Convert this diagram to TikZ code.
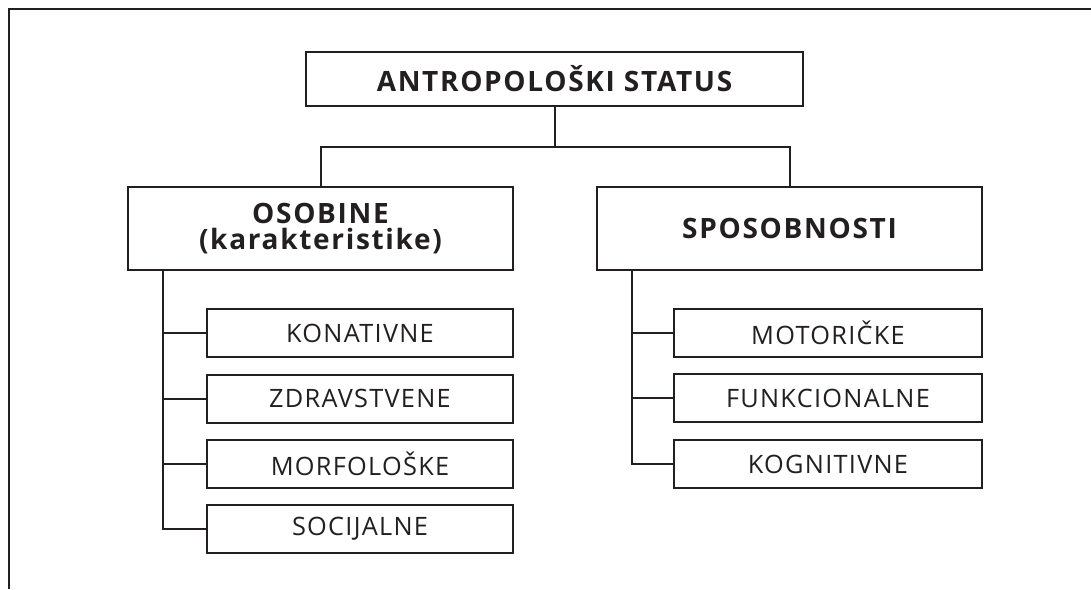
\documentclass[tikz,border=0pt]{standalone}
\usepackage{fontspec}
\setmainfont{Open Sans}
\newfontfamily\headfam{Open Sans Bold}[LetterSpace=6]
\newfontfamily\childfam{Open Sans}[LetterSpace=5]
\usetikzlibrary{calc}
\definecolor{ink}{HTML}{231F20}
\begin{document}
\begin{tikzpicture}[x=0.75pt,y=-0.75pt,
  every node/.style={text=ink},
  headbox/.style={draw=ink,line width=1.5pt,rectangle,inner sep=0pt,align=center,font=\fontsize{21}{19.5}\headfam},
  childbox/.style={draw=ink,line width=1.5pt,rectangle,inner sep=0pt,minimum height=36pt,font=\fontsize{19}{22}\childfam},
  conn/.style={draw=ink,line width=1.5pt}]
\useasboundingbox (0,0) rectangle (1091,589);
\draw[ink,line width=1.6pt] (9,589) -- (9,9) -- (1091,9);

\node[headbox,minimum width=372.75pt,minimum height=40.5pt] (top) at (554.5,79) {ANTROPOLOŠKI STATUS};
\node[headbox,minimum width=288.75pt,minimum height=62.25pt] (osob) at (320.5,228.5) {OSOBINE\\(karakteristike)};
\node[headbox,minimum width=288.75pt,minimum height=62.25pt] (spos) at (789.5,228.5) {SPOSOBNOSTI};

\node[childbox,minimum width=229.5pt] (k1) at (360,333) {KONATIVNE};
\node[childbox,minimum width=229.5pt] (k2) at (360,398.5) {ZDRAVSTVENE};
\node[childbox,minimum width=229.5pt] (k3) at (360,463.5) {MORFOLOŠKE};
\node[childbox,minimum width=229.5pt] (k4) at (360,529) {SOCIJALNE};

\node[childbox,minimum width=231pt] (s1) at (828,333) {MOTORIČKE};
\node[childbox,minimum width=231pt] (s2) at (828,398) {FUNKCIONALNE};
\node[childbox,minimum width=231pt] (s3) at (828,464) {KOGNITIVNE};

\coordinate (bar) at (554.5,147);
\draw[conn] (top.south) -- (bar);
\draw[conn] (osob.north) |- (bar) -| (spos.north);

\coordinate (lt) at ($(osob.south west)+(36,0)$);
\draw[conn] (lt) |- (k4.west);
\draw[conn] (lt |- k1.west) -- (k1.west);
\draw[conn] (lt |- k2.west) -- (k2.west);
\draw[conn] (lt |- k3.west) -- (k3.west);

\coordinate (rt) at ($(spos.south west)+(36,0)$);
\draw[conn] (rt) |- (s3.west);
\draw[conn] (rt |- s1.west) -- (s1.west);
\draw[conn] (rt |- s2.west) -- (s2.west);
\end{tikzpicture}
\end{document}
